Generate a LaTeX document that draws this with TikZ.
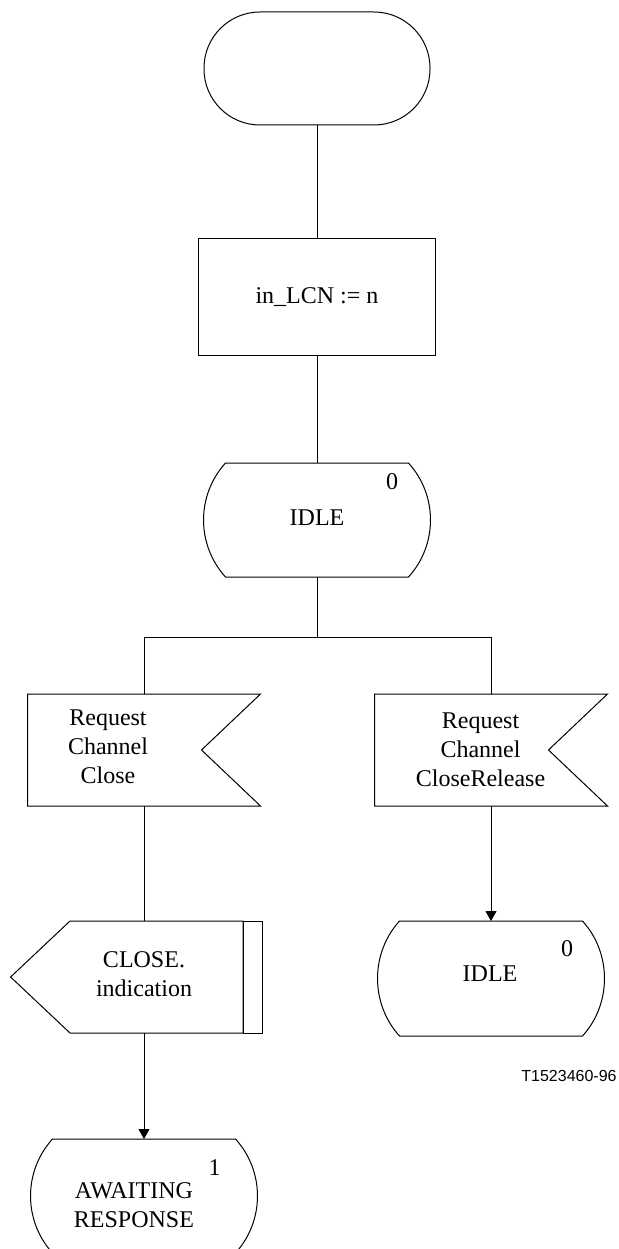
\documentclass[tikz,border=0pt]{standalone}
\usepackage{fontspec}
\setmainfont{Liberation Serif}
\newfontfamily\figsans{Liberation Sans}
\usetikzlibrary{arrows.meta,calc}
\newcommand\sdlstate[1]{%
  \draw (#1.north west) -- (#1.north east)
    .. controls +(29.3,32.3) and +(29.3,-32.3) .. (#1.south east)
    -- (#1.south west)
    .. controls +(-29.3,-32.3) and +(-29.3,32.3) .. (#1.north west) -- cycle;}
\begin{document}
\begin{tikzpicture}[x=1pt,y=-1pt,line width=1pt,
  txt/.style={font=\fontsize{24}{29}\selectfont, align=center, inner sep=0pt},
  shapebox/.style={inner sep=0pt, outer sep=0pt},
  statebox/.style={shapebox, minimum width=183pt, minimum height=114pt},
  inbox/.style={shapebox, minimum width=233pt, minimum height=112pt},
  arr/.style={-{Triangle[length=10pt,width=11pt]}}]
\useasboundingbox (0,0) rectangle (618,1249);
\clip (0,0) rectangle (618,1249);

% start
\node[draw, shapebox, rounded corners=56pt, minimum width=226pt, minimum height=113pt] (start) at (317,68.5) {};
% task
\node[draw, txt, minimum width=237pt, minimum height=116pt] (task) at (317,297) {in\_LCN := n};
% state IDLE
\node[statebox] (idle1) at (317,520) {};
\sdlstate{idle1}
\node[txt] (idle1t) at (317,518) {IDLE};
\node[txt] (idle1n) at (392,482) {0};

% inputs
\node[inbox] (ir1) at (144,750) {};
\draw (ir1.north west) -- (ir1.north east) -- ($(ir1.east)+(-59,0)$) -- (ir1.south east) -- (ir1.south west) -- cycle;
\node[txt] (ir1t) at (108,747) {Request\\Channel\\Close};

\node[inbox] (ir2) at (491,750) {};
\draw (ir2.north west) -- (ir2.north east) -- ($(ir2.east)+(-59,0)$) -- (ir2.south east) -- (ir2.south west) -- cycle;
\node[txt] (ir2t) at (480.5,750) {Request\\Channel\\CloseRelease};

% output
\node[shapebox, minimum width=236pt, minimum height=112pt] (out) at (144,977) {};
\draw ($(out.north west)+(44,0)$) -- ($(out.north east)+(-19,0)$) -- ($(out.south east)+(-19,0)$) -- ($(out.south west)+(44,0)$) -- ($(out.west)+(-15.4,0)$) -- cycle;
\draw ($(out.north east)+(-19,0)$) rectangle (out.south east);
\node[txt] (outt) at (144,974) {CLOSE.\\indication};

% state IDLE right
\node[shapebox, minimum width=183pt, minimum height=115pt] (idle2) at (491,978.5) {};
\sdlstate{idle2}
\node[txt] (idle2t) at (490,974) {IDLE};
\node[txt] (idle2n) at (567,949) {0};

% state AWAITING RESPONSE
\node[statebox] (aw) at (144,1196) {};
\sdlstate{aw}
\node[txt] (awt) at (134,1205) {AWAITING\\RESPONSE};
\node[txt] (awn) at (214.6,1167.5) {1};

% figure code
\node[font=\figsans\fontsize{16}{19}\selectfont, inner sep=0pt] (code) at (569,1076) {T1523460-96};

% connectors
\coordinate (br) at (317,637);
\draw (start) -- (task);
\draw (task) -- (idle1);
\draw (idle1.south) -- (br);
\draw (ir1.north) -- (ir1.north |- br) -- (ir2.north |- br) -- (ir2.north);
\draw (ir1) -- (out);
\draw[arr] (ir2) -- (idle2);
\draw[arr] (out) -- (aw);
\end{tikzpicture}
\end{document}
